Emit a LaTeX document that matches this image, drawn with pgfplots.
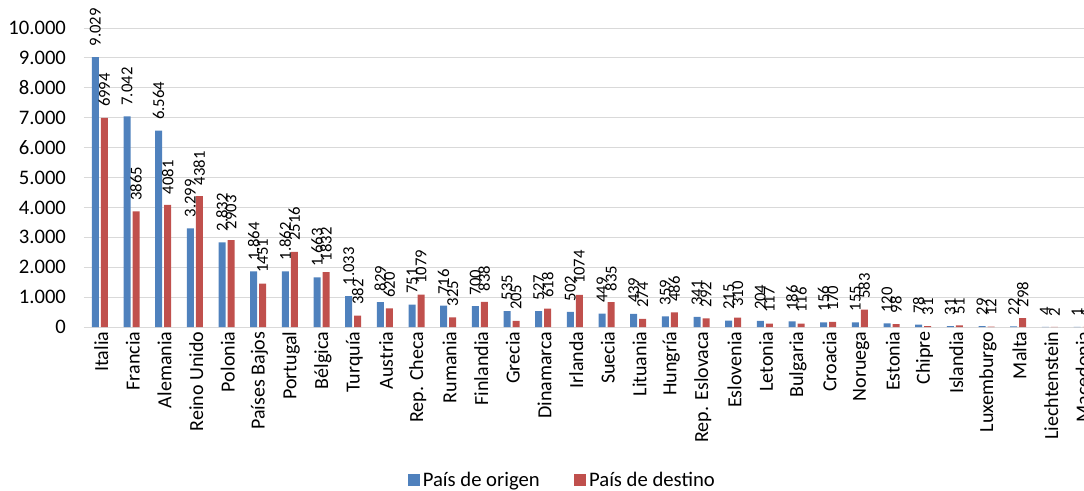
\documentclass[border=0pt]{standalone}
\usepackage{pgfplots}
\pgfplotsset{compat=1.18}
\usepackage{fontspec}
\setmainfont{Carlito}
\definecolor{cblue}{HTML}{4F81BD}
\definecolor{cred}{HTML}{C0504D}
\definecolor{cgrid}{HTML}{D9D9D9}
\begin{document}
\begin{tikzpicture}
\useasboundingbox (-63pt,-122.25pt) rectangle (750pt,245.25pt);
\clip (-63pt,-122.25pt) rectangle (750pt,245.25pt);
\begin{axis}[
  at={(0pt,0pt)}, anchor=south west,
  scale only axis, width=760pt, height=224.25pt,
  ybar=1.5pt, bar width=5.25pt,
  xmin=-0.5, xmax=31.5, ymin=0, ymax=10000,
  xtick={0,...,31},
  xticklabels={Italia,Francia,Alemania,Reino Unido,Polonia,Países Bajos,Portugal,Bélgica,Turquía,Austria,Rep. Checa,Rumania,Finlandia,Grecia,Dinamarca,Irlanda,Suecia,Lituania,Hungría,Rep. Eslovaca,Eslovenia,Letonia,Bulgaria,Croacia,Noruega,Estonia,Chipre,Islandia,Luxemburgo,Malta,Liechtenstein,Macedonia},
  ytick={0,1000,...,10000},
  ymajorgrids, grid style={cgrid, line width=0.75pt},
  axis x line*=bottom, axis y line*=left,
  x axis line style={cgrid, line width=0.75pt, -},
  y axis line style={draw=none},
  major tick length=0pt,
  scaled y ticks=false,
  /pgf/number format/assume math mode=true,
  /pgf/number format/1000 sep={.},
  xticklabel style={rotate=90, anchor=east, font=\fontsize{15}{17}\selectfont, yshift=-1pt},
  yticklabel style={font=\fontsize{15.5}{17}\selectfont, xshift=-10pt},
  nodes near coords,
  every node near coord/.append style={rotate=90, anchor=west, font=\fontsize{12.5}{14}\selectfont, inner xsep=8pt, inner ysep=0pt, text=black},
  legend style={at={(0.4725,-0.512)}, anchor=center, draw=none, legend columns=2,
    font=\fontsize{15.5}{17}\selectfont, /tikz/every even column/.append style={column sep=24pt}},
  legend image code/.code={\fill[#1] (0pt,-4.5pt) rectangle (9pt,4.5pt);},
]
\addplot[fill=cblue, draw=none] coordinates {
(0,9029) (1,7042) (2,6564) (3,3299) (4,2832) (5,1864) (6,1862) (7,1663)
(8,1033) (9,829) (10,751) (11,716) (12,700) (13,535) (14,527) (15,502)
(16,449) (17,439) (18,359) (19,341) (20,215) (21,204) (22,186) (23,156)
(24,155) (25,120) (26,78) (27,31) (28,29) (29,22) (30,4) (31,1)};
\addplot[fill=cred, draw=none, every node near coord/.append style={/pgf/number format/1000 sep={}}] coordinates {
(0,6994) (1,3865) (2,4081) (3,4381) (4,2903) (5,1451) (6,2516) (7,1832)
(8,382) (9,620) (10,1079) (11,325) (12,838) (13,205) (14,618) (15,1074)
(16,835) (17,274) (18,486) (19,292) (20,310) (21,117) (22,116) (23,170)
(24,583) (25,98) (26,31) (27,51) (28,12) (29,298) (30,2) (31,1)};
\legend{País de origen, País de destino}
\end{axis}
\end{tikzpicture}
\end{document}
